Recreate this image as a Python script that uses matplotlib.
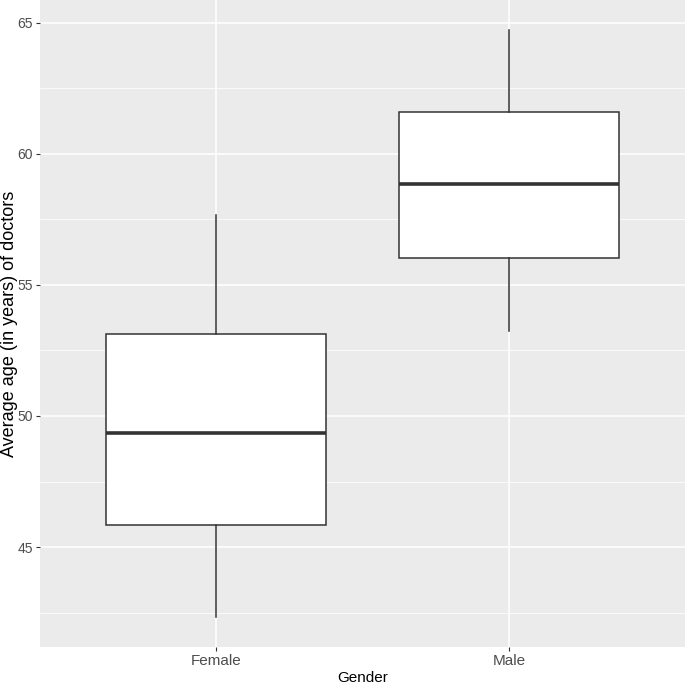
import matplotlib
matplotlib.use("Agg")
import matplotlib.pyplot as plt

plt.rcParams["font.family"] = ["Liberation Sans", "DejaVu Sans"]

categories = ["Female", "Male"]
whislo = [42.33, 53.24]
q1 = [45.84, 56.03]
med = [49.35, 58.85]
q3 = [53.13, 61.60]
whishi = [57.67, 64.73]
yticks = [45, 50, 55, 60, 65]

fig = plt.figure(figsize=(6.85, 6.85), dpi=100)
W = H = 685
ax = fig.add_axes([40 / W, (H - 647) / H, 645 / W, 647 / H])
ax.set_facecolor("#EBEBEB")

stats = [dict(label=c, whislo=a, q1=b, med=m, q3=d, whishi=e, fliers=[])
         for c, a, b, m, d, e in zip(categories, whislo, q1, med, q3, whishi)]
pos = list(range(1, len(categories) + 1))
ax.bxp(stats, positions=pos, widths=0.75, patch_artist=True, showcaps=False,
       boxprops=dict(facecolor="white", edgecolor="#333333", linewidth=1.1),
       whiskerprops=dict(color="#333333", linewidth=1.1),
       medianprops=dict(color="#333333", linewidth=2.6),
       zorder=3)

ax.set_xlim(0.4, len(categories) + 0.6)
ax.set_ylim(41.19, 65.86)
ax.set_yticks(yticks)
ax.set_yticks([42.5, 47.5, 52.5, 57.5, 62.5], minor=True)
ax.set_xticks(pos)
ax.set_xticklabels(categories)
ax.grid(which="major", color="white", linewidth=1.1, zorder=0)
ax.grid(which="minor", axis="y", color="white", linewidth=0.55, zorder=0)
ax.set_axisbelow(True)
for s in ax.spines.values():
    s.set_visible(False)
ax.tick_params(which="major", colors="#333333", length=3, width=0.8,
               labelcolor="#4D4D4D", pad=2)
ax.tick_params(axis="y", labelsize=10)
ax.tick_params(axis="x", labelsize=11)
ax.tick_params(which="minor", length=0)
ax.set_xlabel("Gender", fontsize=11, color="black", labelpad=2)
ax.set_ylabel("Average age (in years) of doctors", fontsize=13, color="black", labelpad=0)

fig.savefig("out.png", dpi=100)
